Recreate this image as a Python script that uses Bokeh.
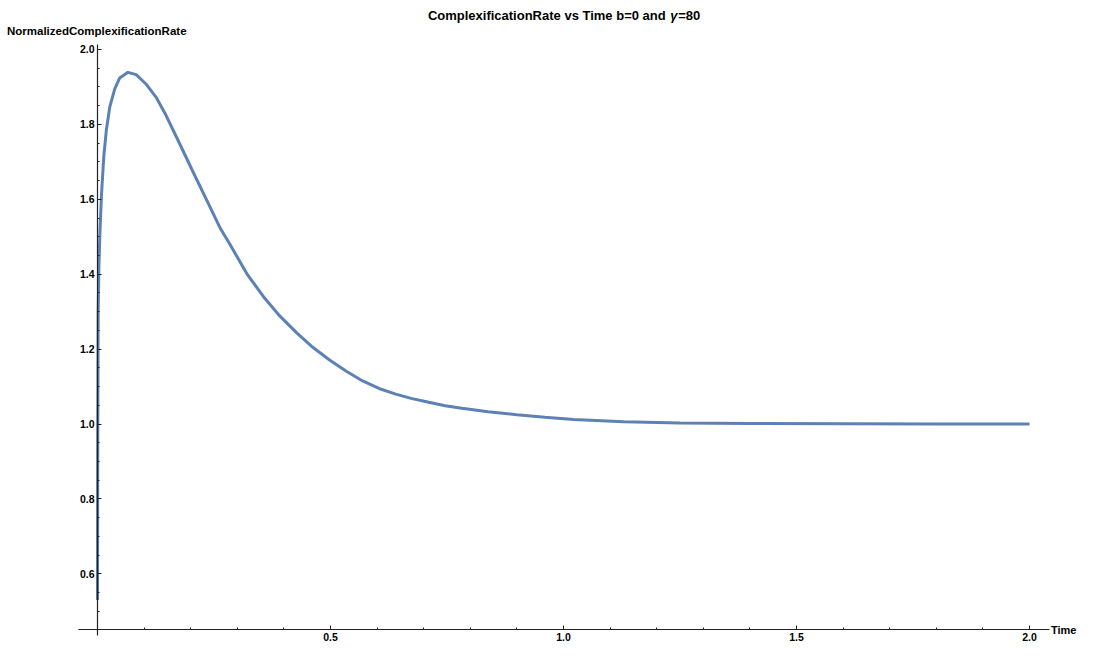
from bokeh.plotting import figure
from bokeh.models import Range1d, FixedTicker, Label, LinearAxis
from bokeh.embed import file_html
from bokeh.resources import INLINE

# ---- data ----
time = [0.0, 0.0005, 0.0015, 0.003, 0.0051, 0.0085, 0.0136, 0.0191, 0.0264, 0.037,
        0.0477, 0.0653, 0.083, 0.104, 0.1255, 0.1468, 0.1753, 0.2036, 0.232, 0.2638,
        0.2851, 0.3206, 0.3562, 0.3915, 0.427, 0.462, 0.498, 0.534, 0.569, 0.604,
        0.640, 0.675, 0.711, 0.746, 0.782, 0.838, 0.90, 0.96, 1.022, 1.129,
        1.25, 1.4, 1.6, 1.8, 2.0]
rate = [0.53, 0.95, 1.30, 1.42, 1.506, 1.611, 1.716, 1.786, 1.847, 1.895,
        1.924, 1.939, 1.933, 1.908, 1.873, 1.825, 1.751, 1.677, 1.604, 1.522,
        1.478, 1.401, 1.340, 1.288, 1.244, 1.205, 1.171, 1.141, 1.115, 1.095,
        1.080, 1.068, 1.058, 1.049, 1.042, 1.033, 1.025, 1.018, 1.012, 1.006,
        1.003, 1.0015, 1.0006, 1.0002, 1.0]

x_ticks = [0.5, 1.0, 1.5, 2.0]
x_tick_labels = ["0.5", "1.0", "1.5", "2.0"]
x_minor = [0.0, 0.1, 0.2, 0.3, 0.4, 0.6, 0.7, 0.8, 0.9, 1.1, 1.2, 1.3, 1.4,
           1.6, 1.7, 1.8, 1.9]
y_ticks = [0.6, 0.8, 1.0, 1.2, 1.4, 1.6, 1.8, 2.0]
y_tick_labels = ["0.6", "0.8", "1.0", "1.2", "1.4", "1.6", "1.8", "2.0"]
y_minor = [0.5, 0.55, 0.65, 0.7, 0.75, 0.85, 0.9, 0.95, 1.05, 1.1, 1.15,
           1.25, 1.3, 1.35, 1.45, 1.5, 1.55, 1.65, 1.7, 1.75, 1.85, 1.9, 1.95]

title_main = "ComplexificationRate vs Time b=0 and "
title_gamma = "γ"
title_tail = "=80"
y_label = "NormalizedComplexificationRate"
x_label = "Time"

FONT = "Liberation Sans"

p = figure(width=1078, height=643, output_backend="svg", toolbar_location=None,
           x_range=Range1d(-0.20815, 2.10515), y_range=Range1d(0.41414, 2.13082),
           min_border=0, x_axis_type=None, y_axis_type=None)
p.title.visible = False
p.outline_line_color = None
p.background_fill_color = "white"
p.border_fill_color = "white"

axis_color = "#222222"
X_CROSS = 0.4515

xaxis = LinearAxis(fixed_location=X_CROSS, bounds=(-0.041, 2.043),
                   ticker=FixedTicker(ticks=x_ticks, minor_ticks=x_minor),
                   major_label_overrides={t: l for t, l in zip(x_ticks, x_tick_labels)})
yaxis = LinearAxis(fixed_location=0.0, bounds=(0.435, 2.013),
                   ticker=FixedTicker(ticks=y_ticks, minor_ticks=y_minor),
                   major_label_overrides={t: l for t, l in zip(y_ticks, y_tick_labels)})
for ax in (xaxis, yaxis):
    ax.axis_line_color = axis_color
    ax.axis_line_width = 1.2
    ax.major_tick_line_color = axis_color
    ax.minor_tick_line_color = axis_color
    ax.major_tick_in = 4
    ax.major_tick_out = 0
    ax.minor_tick_in = 2
    ax.minor_tick_out = 0
    ax.major_label_text_font = FONT
    ax.major_label_text_font_style = "bold"
    ax.major_label_text_font_size = "10.5px"
    ax.major_label_text_color = "black"
    ax.major_label_standoff = 3
p.add_layout(xaxis, "below")
p.add_layout(yaxis, "left")

p.line(time, rate, line_color="#5E81B5", line_width=3)

# label placement helpers (reference-pixel -> data)
def px_to_x(px):
    return (px - 99.3) / 470.0

def py_to_y(py):
    return 1.0 + (433.1 - py) / 381.4

common = dict(text_font=FONT, text_font_style="bold", text_color="black")
p.add_layout(Label(x=px_to_x(676), y=py_to_y(17), text=title_main, text_align="right",
                   text_baseline="middle", text_font_size="13px", **common))
p.add_layout(Label(x=px_to_x(677), y=py_to_y(17), text=title_gamma, text_align="left",
                   text_baseline="middle", text_font_size="13px", text_font=FONT,
                   text_font_style="bold italic", text_color="black"))
p.add_layout(Label(x=px_to_x(685), y=py_to_y(17), text=title_tail, text_align="left",
                   text_baseline="middle", text_font_size="13px", **common))
p.add_layout(Label(x=px_to_x(8), y=py_to_y(33), text=y_label, text_align="left",
                   text_baseline="middle", text_font_size="11.5px", **common))
p.add_layout(Label(x=px_to_x(1061), y=X_CROSS, text=x_label, text_align="left",
                   text_baseline="middle", text_font_size="11px", **common))

open("out.html", "w").write(file_html(p, INLINE))
